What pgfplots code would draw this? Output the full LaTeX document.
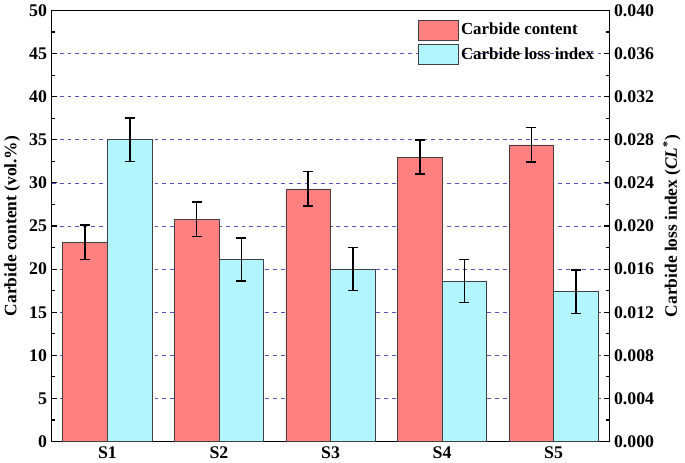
\documentclass[border=0pt]{standalone}
\usepackage{pgfplots}
\pgfplotsset{compat=1.18}
\usepackage{fontspec}
\setmainfont{Liberation Serif}
\definecolor{redbar}{HTML}{FF8080}
\definecolor{cyanbar}{HTML}{B3F5FC}
\definecolor{gridblue}{HTML}{5555BB}
\begin{document}
\begin{tikzpicture}
\pgfplotsset{
 every axis/.append style={
  scale only axis, width=423pt, height=327pt,
  xmin=-0.5, xmax=4.5,
  /pgf/number format/assume math mode=true,
  tick label style={font=\fontsize{13.5}{15}\selectfont\bfseries},
  label style={font=\fontsize{13.2}{15}\selectfont\bfseries},
  major tick length=4pt, minor tick length=2.5pt,
  tick style={black, line width=0.8pt},
  axis line style={line width=0.9pt},
 },
 errstyle/.style={error bars/.cd, y dir=both, y explicit,
   error mark=-,
   error bar style={line width=1.2pt, black},
   error mark options={rotate=90, mark size=3.8pt, line width=1.2pt, black}},
}
\begin{axis}[
  ymin=0, ymax=50, ytick={0,5,...,50}, minor y tick num=1,
  ytick pos=left,
  xtick={0,1,2,3,4}, xticklabels={S1,S2,S3,S4,S5}, xtick pos=bottom,
  xtick style={draw=none},
  ymajorgrids, grid style={gridblue, dashed, line width=0.5pt},
  ylabel={Carbide content (vol.\%)},
]
\addplot[ybar, bar width=0.4, bar shift=0, fill=redbar, draw=black!75, line width=0.6pt, errstyle]
 coordinates {(-0.2,23.1) +- (0,2.0) (0.8,25.8) +- (0,2.0) (1.8,29.3) +- (0,2.0) (2.8,33.0) +- (0,2.0) (3.8,34.4) +- (0,2.0)};
\end{axis}
\begin{axis}[
  ymin=0, ymax=0.04,
  ytick={0,0.004,0.008,0.012,0.016,0.020,0.024,0.028,0.032,0.036,0.040},
  minor y tick num=1,
  axis y line*=right, axis x line=none,
  scaled y ticks=false,
  yticklabel style={/pgf/number format/.cd, fixed, fixed zerofill, precision=3},
  ylabel={Carbide loss index (\textit{CL}\textsuperscript{*})},
  legend style={at={(0.985,0.985)}, anchor=north east, draw=none, fill=none,
    font=\fontsize{12.8}{14}\selectfont\bfseries, row sep=3pt},
  legend cell align=left,
  legend image code/.code={\draw[#1] (0pt,-7.5pt) rectangle (30pt,7.5pt);},
]
\addlegendimage{fill=redbar, draw=black!75, line width=0.6pt}
\addlegendentry{Carbide content}
\addplot[ybar, bar width=0.4, bar shift=0, fill=cyanbar, draw=black!75, line width=0.6pt, errstyle]
 coordinates {(0.2,0.0280) +- (0,0.002) (1.2,0.0169) +- (0,0.002) (2.2,0.0160) +- (0,0.002) (3.2,0.0149) +- (0,0.002) (4.2,0.0139) +- (0,0.002)};
\addlegendentry{Carbide loss index}
\end{axis}
\end{tikzpicture}
\end{document}
